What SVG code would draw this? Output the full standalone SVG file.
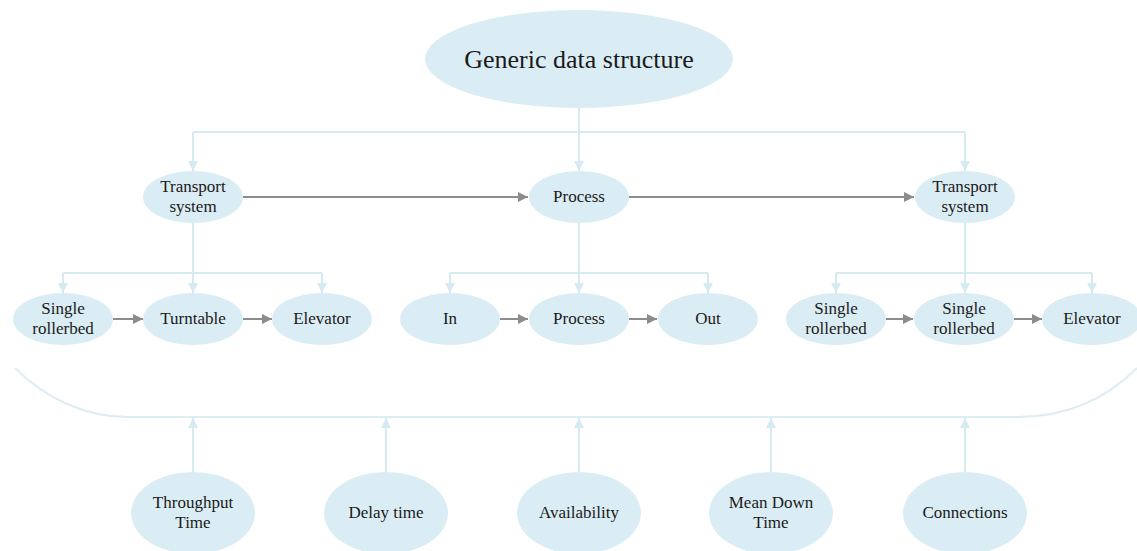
<svg xmlns="http://www.w3.org/2000/svg" width="1137" height="551" viewBox="0 0 1137 551">
  <style>
    .node ellipse { fill: #dbedf4; }
    text { font-family: "Liberation Serif", "Times New Roman", serif; font-size: 17px; fill: #1a1a1a; text-anchor: middle; }
    .title { font-size: 26px; }
    .tree { fill: none; stroke: #d6eaf1; stroke-width: 2; }
    .flow { fill: none; stroke: #8c8c8c; stroke-width: 2; }
    .bracket { fill: none; stroke: #dcedf3; stroke-width: 2; }
  </style>
  <defs>
    <marker id="arrowLight" viewBox="0 0 10 10" refX="10" refY="5" markerWidth="10" markerHeight="10" markerUnits="userSpaceOnUse" orient="auto">
      <path d="M0,0 L10,5 L0,10 z" fill="#d6eaf1"/>
    </marker>
    <marker id="arrowGray" viewBox="0 0 10 10" refX="10" refY="5" markerWidth="10" markerHeight="10" markerUnits="userSpaceOnUse" orient="auto">
      <path d="M0,0 L10,5 L0,10 z" fill="#8c8c8c"/>
    </marker>
  </defs>

  <g id="connectors">
    <!-- root to first level -->
    <path class="tree" d="M193,132 H965"/>
    <path class="tree" d="M579,108 V171" marker-end="url(#arrowLight)"/>
    <path class="tree" d="M193,132 V171" marker-end="url(#arrowLight)"/>
    <path class="tree" d="M965,132 V171" marker-end="url(#arrowLight)"/>

    <!-- first level flow -->
    <path class="flow" d="M243,197 H528" marker-end="url(#arrowGray)"/>
    <path class="flow" d="M629,197 H914" marker-end="url(#arrowGray)"/>

    <!-- left transport system branches -->
    <path class="tree" d="M193,223 V293" marker-end="url(#arrowLight)"/>
    <path class="tree" d="M63,273 H322"/>
    <path class="tree" d="M63,273 V293" marker-end="url(#arrowLight)"/>
    <path class="tree" d="M322,273 V293" marker-end="url(#arrowLight)"/>

    <!-- process branches -->
    <path class="tree" d="M579,223 V293" marker-end="url(#arrowLight)"/>
    <path class="tree" d="M450,273 H708"/>
    <path class="tree" d="M450,273 V293" marker-end="url(#arrowLight)"/>
    <path class="tree" d="M708,273 V293" marker-end="url(#arrowLight)"/>

    <!-- right transport system branches -->
    <path class="tree" d="M965,223 V293" marker-end="url(#arrowLight)"/>
    <path class="tree" d="M836,273 H1092"/>
    <path class="tree" d="M836,273 V293" marker-end="url(#arrowLight)"/>
    <path class="tree" d="M1092,273 V293" marker-end="url(#arrowLight)"/>

    <!-- second level flows -->
    <path class="flow" d="M113,319 H143" marker-end="url(#arrowGray)"/>
    <path class="flow" d="M243,319 H272" marker-end="url(#arrowGray)"/>
    <path class="flow" d="M500,319 H528" marker-end="url(#arrowGray)"/>
    <path class="flow" d="M629,319 H657" marker-end="url(#arrowGray)"/>
    <path class="flow" d="M886,319 H913" marker-end="url(#arrowGray)"/>
    <path class="flow" d="M1014,319 H1042" marker-end="url(#arrowGray)"/>

    <!-- bracket grouping the structure -->
    <path class="bracket" d="M15,368 C45,398 85,417 128,417 H1017 C1065,417 1105,400 1137,368"/>

    <!-- KPIs pointing to the bracket -->
    <path class="tree" d="M193,472 V418" marker-end="url(#arrowLight)"/>
    <path class="tree" d="M386,472 V418" marker-end="url(#arrowLight)"/>
    <path class="tree" d="M579,472 V418" marker-end="url(#arrowLight)"/>
    <path class="tree" d="M771,472 V418" marker-end="url(#arrowLight)"/>
    <path class="tree" d="M965,472 V418" marker-end="url(#arrowLight)"/>
  </g>

  <g id="generic-data-structure" class="node">
    <ellipse cx="579" cy="59" rx="154" ry="49"/>
    <text class="title" x="579" y="68">Generic data structure</text>
  </g>

  <g id="transport-left" class="node">
    <ellipse cx="193" cy="197" rx="50" ry="26"/>
    <text x="193" y="192">Transport</text>
    <text x="193" y="212">system</text>
  </g>
  <g id="process" class="node">
    <ellipse cx="579" cy="197" rx="50" ry="26"/>
    <text x="579" y="202">Process</text>
  </g>
  <g id="transport-right" class="node">
    <ellipse cx="965" cy="197" rx="50" ry="26"/>
    <text x="965" y="192">Transport</text>
    <text x="965" y="212">system</text>
  </g>

  <g id="single-rollerbed-1" class="node">
    <ellipse cx="63" cy="319" rx="50" ry="26"/>
    <text x="63" y="314">Single</text>
    <text x="63" y="334">rollerbed</text>
  </g>
  <g id="turntable" class="node">
    <ellipse cx="193" cy="319" rx="50" ry="26"/>
    <text x="193" y="324">Turntable</text>
  </g>
  <g id="elevator-1" class="node">
    <ellipse cx="322" cy="319" rx="50" ry="26"/>
    <text x="322" y="324">Elevator</text>
  </g>

  <g id="in" class="node">
    <ellipse cx="450" cy="319" rx="50" ry="26"/>
    <text x="450" y="324">In</text>
  </g>
  <g id="process-step" class="node">
    <ellipse cx="579" cy="319" rx="50" ry="26"/>
    <text x="579" y="324">Process</text>
  </g>
  <g id="out" class="node">
    <ellipse cx="708" cy="319" rx="50" ry="26"/>
    <text x="708" y="324">Out</text>
  </g>

  <g id="single-rollerbed-2" class="node">
    <ellipse cx="836" cy="319" rx="50" ry="26"/>
    <text x="836" y="314">Single</text>
    <text x="836" y="334">rollerbed</text>
  </g>
  <g id="single-rollerbed-3" class="node">
    <ellipse cx="964" cy="319" rx="50" ry="26"/>
    <text x="964" y="314">Single</text>
    <text x="964" y="334">rollerbed</text>
  </g>
  <g id="elevator-2" class="node">
    <ellipse cx="1092" cy="319" rx="50" ry="26"/>
    <text x="1092" y="324">Elevator</text>
  </g>

  <g id="throughput-time" class="node">
    <ellipse cx="193" cy="513" rx="62" ry="41"/>
    <text x="193" y="508">Throughput</text>
    <text x="193" y="528">Time</text>
  </g>
  <g id="delay-time" class="node">
    <ellipse cx="386" cy="513" rx="62" ry="41"/>
    <text x="386" y="518">Delay time</text>
  </g>
  <g id="availability" class="node">
    <ellipse cx="579" cy="513" rx="62" ry="41"/>
    <text x="579" y="518">Availability</text>
  </g>
  <g id="mean-down-time" class="node">
    <ellipse cx="771" cy="513" rx="62" ry="41"/>
    <text x="771" y="508">Mean Down</text>
    <text x="771" y="528">Time</text>
  </g>
  <g id="connections" class="node">
    <ellipse cx="965" cy="513" rx="62" ry="41"/>
    <text x="965" y="518">Connections</text>
  </g>
</svg>
